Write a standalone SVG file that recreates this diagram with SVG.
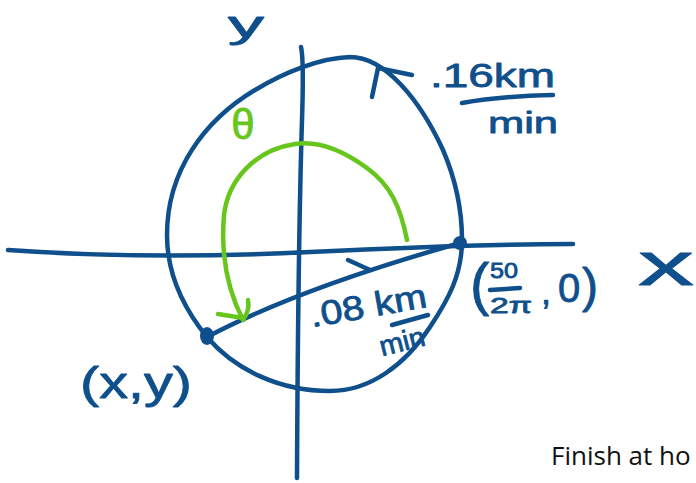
<svg xmlns="http://www.w3.org/2000/svg" width="696" height="483" viewBox="0 0 696 483">
<style>
.ink{fill:none;stroke:#0E4F8C;stroke-width:4.5;stroke-linecap:round;stroke-linejoin:round}
.grn{fill:none;stroke:#66C61C;stroke-width:4.5;stroke-linecap:round;stroke-linejoin:round}
.hw{font-family:"Liberation Sans","DejaVu Sans",sans-serif;fill:#0E4F8C;stroke:#0E4F8C;stroke-width:0.8;stroke-linejoin:round}
.hg{font-family:"Liberation Sans","DejaVu Sans",sans-serif;fill:#66C61C;stroke:#66C61C;stroke-width:0.8}
.typed{font-family:"Open Sans","Liberation Sans",sans-serif;fill:#111;font-size:26px}
</style>
<rect width="696" height="483" fill="#fff"/>
<g id="axes">
<path class="ink" d="M8,250 Q150,260 310,252 T573,244"/>
<path class="ink" d="M301,47 Q304,60 302,120 Q298,250 297,478"/>
</g>
<g id="circle">
<path class="ink" d="M167,235 C167,170 205,120 255,90 C285,72 320,58 350,57 C385,57 420,100 443,150 C455,178 462,210 462,240 C462,275 448,300 430,327 C405,365 370,391 330,391 C280,391 235,370 207,337 C185,310 167,275 167,235 Z"/>
<path class="ink" d="M372,97 L378,68 L412,75"/>
</g>
<g id="connectors">
<path class="ink" d="M207,337 Q300,288 460,243"/>
<path class="ink" d="M348,260 L370,270"/>
<path class="grn" d="M407,240 C400,205 390,185 367,168 C345,152 320,140 295,144 C255,150 228,180 224,215 C221,250 225,285 243,320"/>
<path class="grn" d="M218,314 L243,318 M248,300 Q250,310 243,320"/>
</g>
<g id="points">
<circle cx="460" cy="243" r="7" fill="#0E4F8C"/>
<ellipse cx="207" cy="336" rx="7" ry="9" fill="#0E4F8C"/>
</g>
<g id="labels">
<text class="hw" x="228" y="37" font-size="36" textLength="36" lengthAdjust="spacingAndGlyphs">y</text>
<text class="hw" x="430" y="87" font-size="34" textLength="125" lengthAdjust="spacingAndGlyphs">.16km</text>
<path class="ink" d="M462,103 Q500,96 553,95"/>
<text class="hw" x="488" y="133" font-size="30" textLength="70" lengthAdjust="spacingAndGlyphs">min</text>
<text class="hg" x="243" y="139" font-size="42" text-anchor="middle">θ</text>
<text class="hw" x="638" y="285" font-size="62" textLength="56" lengthAdjust="spacingAndGlyphs">x</text>
<text class="hw"><tspan x="470" y="304" font-size="58">(</tspan><tspan x="490" y="278" font-size="22" textLength="28" lengthAdjust="spacingAndGlyphs">50</tspan><tspan x="490" y="313" font-size="22" textLength="42" lengthAdjust="spacingAndGlyphs">2π</tspan><tspan x="541" y="304" font-size="36">,</tspan><tspan x="558" y="302" font-size="40">0</tspan><tspan x="582" y="302" font-size="48">)</tspan></text>
<path class="ink" d="M490,290 L520,288"/>
<text class="hw" transform="rotate(-10 314 327)" x="312" y="327" font-size="34" textLength="118" lengthAdjust="spacingAndGlyphs">.08 km</text>
<path class="ink" d="M392,325 L428,315"/>
<text class="hw" transform="rotate(-14 383 356)" x="382" y="356" font-size="28" textLength="46" lengthAdjust="spacingAndGlyphs">min</text>
<text class="hw" x="80" y="398" font-size="44" textLength="112" lengthAdjust="spacingAndGlyphs">(x,y)</text>
<text class="typed" x="551" y="465">Finish at ho</text>
</g>
</svg>
